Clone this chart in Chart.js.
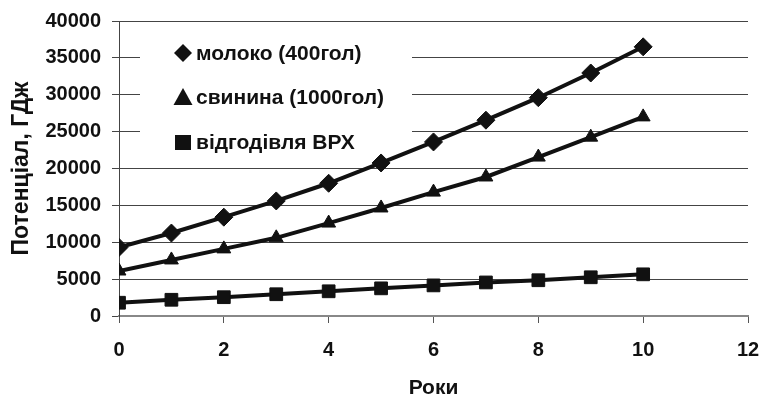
<!DOCTYPE html>
<html>
<head>
<meta charset="utf-8">
<script src="https://cdn.jsdelivr.net/npm/chart.js@4/dist/chart.umd.min.js"></script>
<style>
  body { margin: 0; background: #fff; }
  #c { display: block; }
</style>
</head>
<body>
<canvas id="c" width="761" height="401"></canvas>
<script>
const years = [0, 1, 2, 3, 4, 5, 6, 7, 8, 9, 10];
const milk = [9300, 11250, 13400, 15600, 18000, 20750, 23600, 26550, 29600, 32950, 36500];
const pork = [6100, 7600, 9100, 10600, 12600, 14650, 16800, 18850, 21550, 24250, 27000];
const beef = [1800, 2200, 2550, 2950, 3350, 3750, 4150, 4550, 4850, 5250, 5650];
const seriesNames = ["молоко (400гол)", "свинина (1000гол)", "відгодівля ВРХ"];
const markerStyles = ["rectRot", "triangle", "rect"];
const markerSizes = [9, 8, 9];

const FONT = "'Liberation Sans', Arial, sans-serif";

function toPoints(ys) {
    return ys.map((y, i) => ({ x: years[i], y: y }));
}

// legend sits inside the plot on a white box, under the lines
const insideLegend = {
    id: "insideLegend",
    beforeDatasetsDraw(chart) {
        const c = chart.ctx;
        c.save();
        c.fillStyle = "#fff";
        c.fillRect(140, 30, 272, 126);
        c.fillStyle = "#111";
        c.font = "bold 21px " + FONT;
        c.textBaseline = "middle";
        const rows = [53, 97, 142];
        seriesNames.forEach((name, i) => {
            const y = rows[i];
            const x = 183;
            c.beginPath();
            if (markerStyles[i] === "rectRot") {
                const r = 9;
                c.moveTo(x, y - r); c.lineTo(x + r, y); c.lineTo(x, y + r); c.lineTo(x - r, y);
            } else if (markerStyles[i] === "triangle") {
                c.moveTo(x, y - 9); c.lineTo(x + 9.5, y + 8); c.lineTo(x - 9.5, y + 8);
            } else {
                c.rect(x - 8, y - 7, 16, 15);
            }
            c.closePath();
            c.fill();
            c.fillText(name, 196, y + 1);
        });
        c.restore();
    }
};

const datasets = [milk, pork, beef].map((vals, i) => ({
    label: seriesNames[i],
    data: toPoints(vals),
    borderColor: "#111",
    backgroundColor: "#111",
    borderWidth: 4,
    pointStyle: markerStyles[i],
    pointRadius: markerSizes[i],
    pointBackgroundColor: "#111",
    pointBorderColor: "#111",
    pointBorderWidth: 1,
    tension: 0
}));

new Chart(document.getElementById("c"), {
    type: "line",
    data: { datasets: datasets },
    plugins: [insideLegend],
    options: {
        responsive: false,
        animation: false,
        layout: { padding: { left: 0, right: 13, top: 21, bottom: 0 } },
        plugins: {
            legend: { display: false },
            tooltip: { enabled: false }
        },
        scales: {
            x: {
                type: "linear",
                min: 0,
                max: 12,
                afterFit: (s) => { s.height = 85; s.paddingRight = 0; s.paddingLeft = 0; },
                ticks: {
                    stepSize: 2,
                    color: "#111",
                    font: { family: FONT, size: 20, weight: "bold" },
                    padding: 15
                },
                grid: {
                    drawOnChartArea: false,
                    drawTicks: true,
                    tickLength: 7,
                    color: "#555"
                },
                border: { color: "#888", width: 2 },
                title: {
                    display: true,
                    text: "Роки",
                    color: "#111",
                    font: { family: FONT, size: 21, weight: "bold" },
                    padding: { top: 0, bottom: 0 }
                }
            },
            y: {
                min: 0,
                max: 40000,
                afterFit: (s) => { s.width = 119; s.paddingTop = 0; s.paddingBottom = 0; },
                ticks: {
                    stepSize: 5000,
                    color: "#111",
                    font: { family: FONT, size: 20, weight: "bold" },
                    padding: 11,
                    callback: (v) => String(v)
                },
                grid: {
                    color: "#444",
                    lineWidth: 1,
                    tickLength: 7
                },
                border: { color: "#444", width: 1 },
                title: {
                    display: true,
                    text: "Потенціал, ГДж",
                    color: "#111",
                    font: { family: FONT, size: 23, weight: "bold" },
                    padding: { top: 8, bottom: 0 }
                }
            }
        }
    }
});
</script>
</body>
</html>
